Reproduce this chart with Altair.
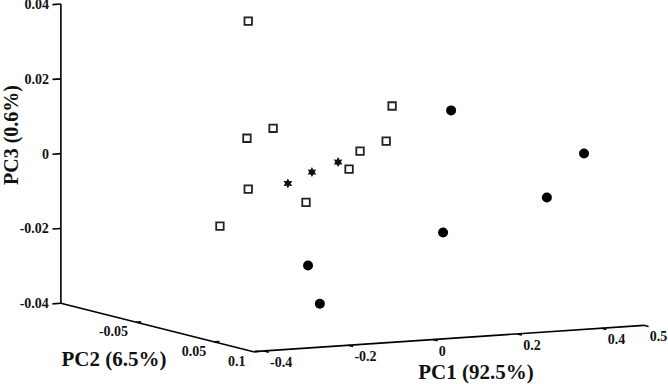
import math
import altair as alt
import pandas as pd

# ---------------- data (PCA scores) ----------------
square_pc1 = [-0.252, 0.089, -0.193, -0.255, 0.075, 0.013, -0.013, -0.252, -0.115, -0.319]
square_pc2 = [0.0, 0.0, 0.0, 0.0, 0.0, 0.0, 0.0, 0.0, 0.0, 0.0]
square_pc3 = [0.0418, 0.0165, 0.0127, 0.0105, 0.0072, 0.0050, 0.0004, -0.0031, -0.0077, -0.0125]

star_pc1 = [-0.158, -0.101, -0.039]
star_pc2 = [0.0, 0.0, 0.0]
star_pc3 = [-0.0023, 0.0003, 0.0025]

circle_pc1 = [0.136, 0.451, 0.363, 0.117, -0.203, -0.175]
circle_pc2 = [0.05, 0.05, 0.05, 0.05, 0.05, 0.05]
circle_pc3 = [0.0176, 0.0037, -0.0074, -0.0149, -0.0213, -0.0317]

pc1_ticks = [-0.4, -0.2, 0.0, 0.2, 0.4, 0.5]
pc1_labels = ["-0.4", "-0.2", "0", "0.2", "0.4", "0.5"]
pc2_ticks = [-0.05, 0.05, 0.1]
pc2_labels = ["-0.05", "0.05", "0.1"]
pc3_ticks = [-0.04, -0.02, 0.0, 0.02, 0.04]
pc3_labels = ["-0.04", "-0.02", "0", "0.02", "0.04"]

pc1_lim = [-0.425, 0.5]
pc2_lim = [-0.146, 0.1]
pc3_lim = [-0.04, 0.04]

W, H = 668, 384
FONT = "Liberation Serif"


# ---------------- oblique 3D view projection ----------------
def proj(p1, p2, p3):
    u = 253.5 + (p1 - pc1_lim[0]) * 422 + (p2 - pc2_lim[1]) * 783
    v = 351.7 - (p1 - pc1_lim[0]) * 28.5 + (p2 - pc2_lim[1]) * 196.7 - (p3 - pc3_lim[0]) * 3741
    return u, v


def pts(a, b, c):
    rows = []
    for p1, p2, p3 in zip(a, b, c):
        u, v = proj(p1, p2, p3)
        rows.append({"u": u, "v": v, "PC1": p1, "PC2": p2, "PC3": p3})
    return pd.DataFrame(rows)


def seg(a, b):
    u, v = proj(*a)
    u2, v2 = proj(*b)
    return {"u": u, "v": v, "u2": u2, "v2": v2}


sq_df = pts(square_pc1, square_pc2, square_pc3)
st_df = pts(star_pc1, star_pc2, star_pc3)
ci_df = pts(circle_pc1, circle_pc2, circle_pc3)

x0, x1 = pc1_lim
y0, y1 = pc2_lim
z0, z1 = pc3_lim

axis_rows = [
    seg((x0, y0, z0), (x0, y0, z1)),  # PC3 axis
    seg((x0, y0, z0), (x0, y1, z0)),  # PC2 axis
    seg((x0, y1, z0), (x1, y1, z0)),  # PC1 axis
]
for t in pc1_ticks:
    axis_rows.append(seg((t, y1, z0), (t, y1 + 0.006, z0)))
for t in pc2_ticks:
    axis_rows.append(seg((x0, t, z0), (x0 + 0.012, t, z0)))
for t in pc3_ticks:
    axis_rows.append(seg((x0, y0, t), (x0 - 0.02, y0, t)))
axis_df = pd.DataFrame(axis_rows)

lab1 = pd.DataFrame([dict(zip(["u", "v"], proj(t, y1, z0)), label=l) for t, l in zip(pc1_ticks, pc1_labels)])
lab2 = pd.DataFrame([dict(zip(["u", "v"], proj(x0, t, z0)), label=l) for t, l in zip(pc2_ticks, pc2_labels)])
lab3 = pd.DataFrame([dict(zip(["u", "v"], proj(x0, y0, t)), label=l) for t, l in zip(pc3_ticks, pc3_labels)])

xs = alt.Scale(domain=[0, W], zero=False, nice=False)
ys = alt.Scale(domain=[0, H], zero=False, nice=False, reverse=True)
X = alt.X("u:Q", scale=xs, axis=None)
Y = alt.Y("v:Q", scale=ys, axis=None)

axes = alt.Chart(axis_df).mark_rule(color="black", strokeWidth=1.6).encode(
    x=X, y=Y, x2="u2:Q", y2="v2:Q"
)

tick_text = dict(font=FONT, fontWeight="bold", fontSize=14, color="#111")
t1 = alt.Chart(lab1).mark_text(align="left", baseline="middle", dx=6, dy=12, **tick_text).encode(
    x=X, y=Y, text="label:N")
t2 = alt.Chart(lab2).mark_text(align="right", baseline="middle", dx=-8, dy=10, **tick_text).encode(
    x=X, y=Y, text="label:N")
t3 = alt.Chart(lab3).mark_text(align="right", baseline="middle", dx=-12, dy=1, **tick_text).encode(
    x=X, y=Y, text="label:N")

title_style = dict(font=FONT, fontWeight="bold", fontSize=21, color="#111", baseline="middle", align="center")
title_df = pd.DataFrame({"label": ["PC1 (92.5%)", "PC2 (6.5%)", "PC3 (0.6%)"]})
ti1 = alt.Chart(title_df).transform_filter("datum.label == 'PC1 (92.5%)'").mark_text(**title_style).encode(
    x=alt.value(476), y=alt.value(373), text="label:N")
ti2 = alt.Chart(title_df).transform_filter("datum.label == 'PC2 (6.5%)'").mark_text(**title_style).encode(
    x=alt.value(114), y=alt.value(360), text="label:N")
ti3 = alt.Chart(title_df).transform_filter("datum.label == 'PC3 (0.6%)'").mark_text(
    angle=270, font=FONT, fontWeight="bold", fontSize=20, color="#111", baseline="middle", align="center"
).encode(x=alt.value(12), y=alt.value(135), text="label:N")

# six-pointed star path
star_pts = []
for k in range(12):
    ang = math.pi / 2 + k * math.pi / 6
    r = 1.0 if k % 2 == 0 else 0.55
    star_pts.append(f"{r * math.cos(ang):.3f},{-r * math.sin(ang):.3f}")
star_path = "M" + " L".join(star_pts) + " Z"

squares = alt.Chart(sq_df).mark_point(shape="square", filled=False, color="#222", size=56, strokeWidth=1.8, opacity=1).encode(x=X, y=Y)
stars = alt.Chart(st_df).mark_point(shape=star_path, filled=True, color="#111", size=100, opacity=1).encode(x=X, y=Y)
circles = alt.Chart(ci_df).mark_circle(color="black", size=100, opacity=1).encode(x=X, y=Y)

chart = alt.layer(axes, t1, t2, t3, ti1, ti2, ti3, squares, stars, circles).properties(
    width=W, height=H, autosize="none", padding=0
).configure_view(stroke=None)

chart.save("out.html", embed_options={"renderer": "svg", "actions": False})
